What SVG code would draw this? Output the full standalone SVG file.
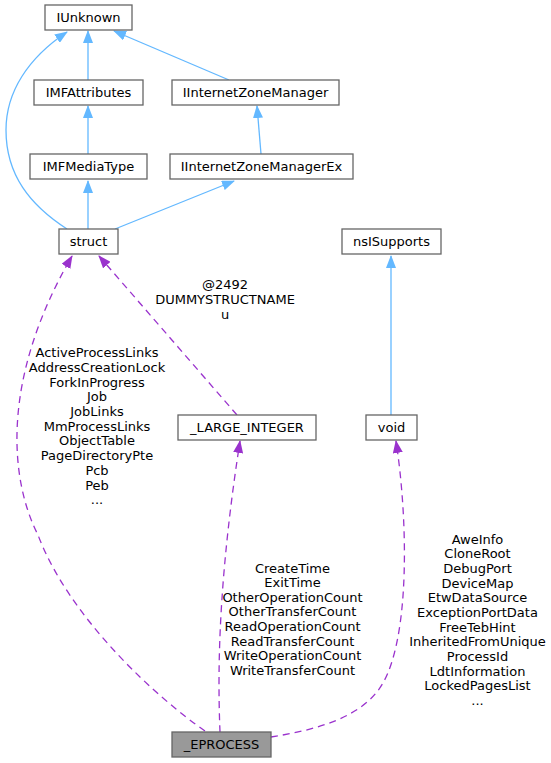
<svg xmlns="http://www.w3.org/2000/svg" width="551" height="763" viewBox="0 0 551 763">
<style>
.n rect{fill:#fff;stroke:#666;stroke-width:1.3}
.n text,.lbl{font-family:"DejaVu Sans","Liberation Sans",sans-serif;font-size:13px;fill:#000;text-anchor:middle}
.blue{fill:none;stroke:#63b8ff;stroke-width:1.3}
.purple{fill:none;stroke:#9a32cd;stroke-width:1.3;stroke-dasharray:7,5}
</style>
<defs>
<marker id="ab" markerUnits="userSpaceOnUse" markerWidth="13" markerHeight="10" viewBox="0 0 13 10" refX="12" refY="5" orient="auto">
<path d="M0,0 L13,5 L0,10 z" fill="#63b8ff" stroke="none"/>
</marker>
<marker id="ap" markerUnits="userSpaceOnUse" markerWidth="13" markerHeight="10" viewBox="0 0 13 10" refX="12" refY="5" orient="auto">
<path d="M0,0 L13,5 L0,10 z" fill="#9a32cd" stroke="none"/>
</marker>
</defs>
<rect width="551" height="763" fill="#fff"/>
<g id="edges">
<path class="blue" d="M88,80 L88,31" marker-end="url(#ab)"/>
<path class="blue" d="M88,154 L88,106" marker-end="url(#ab)"/>
<path class="blue" d="M88,229 L88,181" marker-end="url(#ab)"/>
<path class="blue" d="M229,80 L114,31" marker-end="url(#ab)"/>
<path class="blue" d="M261,154 L257,106" marker-end="url(#ab)"/>
<path class="blue" d="M115,229 L234,181" marker-end="url(#ab)"/>
<path class="blue" d="M67,229 C30,205 6,175 6,130 C6,92 28,58 67,32" marker-end="url(#ab)"/>
<path class="blue" d="M391,415 L391,256" marker-end="url(#ab)"/>
<path class="purple" d="M237,415 L99,256" marker-end="url(#ap)"/>
<path class="purple" d="M205,731 C160,700 70,620 38,535 C10,480 0,380 72,256" marker-end="url(#ap)"/>
<path class="purple" d="M220,732 C217,660 220,570 240,441" marker-end="url(#ap)"/>
<path class="purple" d="M271,737 C315,730 363,718 383,683 C410,635 408,520 396,441" marker-end="url(#ap)"/>
</g>
<g id="IUnknown" class="n"><rect x="45" y="5" width="87" height="25"/><text x="88.5" y="22">IUnknown</text></g>
<g id="IMFAttributes" class="n"><rect x="34" y="80" width="109" height="25"/><text x="88.5" y="97">IMFAttributes</text></g>
<g id="IInternetZoneManager" class="n"><rect x="172" y="80" width="167" height="25"/><text x="255.5" y="97">IInternetZoneManager</text></g>
<g id="IMFMediaType" class="n"><rect x="30" y="154" width="117" height="25"/><text x="88.5" y="171">IMFMediaType</text></g>
<g id="IInternetZoneManagerEx" class="n"><rect x="170" y="154" width="183" height="25"/><text x="261.5" y="171">IInternetZoneManagerEx</text></g>
<g id="struct" class="n"><rect x="59" y="229" width="59" height="25"/><text x="88.5" y="246">struct</text></g>
<g id="nsISupports" class="n"><rect x="342" y="229" width="99" height="25"/><text x="391.5" y="246">nsISupports</text></g>
<g id="LARGE_INTEGER" class="n"><rect x="178" y="415" width="138" height="25"/><text x="247" y="432">_LARGE_INTEGER</text></g>
<g id="void" class="n"><rect x="366" y="415" width="51" height="25"/><text x="391.5" y="432">void</text></g>
<g id="EPROCESS" class="n"><rect x="172" y="732" width="99" height="25" style="fill:#999"/><text x="221.5" y="749">_EPROCESS</text></g>
<g id="labels">
<text class="lbl" x="225" y="289">@2492</text>
<text class="lbl" x="225" y="304">DUMMYSTRUCTNAME</text>
<text class="lbl" x="225" y="319">u</text>
<text class="lbl" x="97" y="357">ActiveProcessLinks</text>
<text class="lbl" x="97" y="371.7">AddressCreationLock</text>
<text class="lbl" x="97" y="386.5">ForkInProgress</text>
<text class="lbl" x="97" y="401.2">Job</text>
<text class="lbl" x="97" y="416">JobLinks</text>
<text class="lbl" x="97" y="430.7">MmProcessLinks</text>
<text class="lbl" x="97" y="445.4">ObjectTable</text>
<text class="lbl" x="97" y="460.2">PageDirectoryPte</text>
<text class="lbl" x="97" y="474.9">Pcb</text>
<text class="lbl" x="97" y="489.7">Peb</text>
<text class="lbl" x="97" y="504.4">...</text>
<text class="lbl" x="292.5" y="572.5">CreateTime</text>
<text class="lbl" x="292.5" y="587.1">ExitTime</text>
<text class="lbl" x="292.5" y="601.7">OtherOperationCount</text>
<text class="lbl" x="292.5" y="616.3">OtherTransferCount</text>
<text class="lbl" x="292.5" y="630.9">ReadOperationCount</text>
<text class="lbl" x="292.5" y="645.5">ReadTransferCount</text>
<text class="lbl" x="292.5" y="660.1">WriteOperationCount</text>
<text class="lbl" x="292.5" y="674.7">WriteTransferCount</text>
<text class="lbl" x="477.5" y="543.7">AweInfo</text>
<text class="lbl" x="477.5" y="558.3">CloneRoot</text>
<text class="lbl" x="477.5" y="573">DebugPort</text>
<text class="lbl" x="477.5" y="587.6">DeviceMap</text>
<text class="lbl" x="477.5" y="602.3">EtwDataSource</text>
<text class="lbl" x="477.5" y="616.9">ExceptionPortData</text>
<text class="lbl" x="477.5" y="631.6">FreeTebHint</text>
<text class="lbl" x="477.5" y="646.2">InheritedFromUnique</text>
<text class="lbl" x="477.5" y="660.9">ProcessId</text>
<text class="lbl" x="477.5" y="675.5">LdtInformation</text>
<text class="lbl" x="477.5" y="690.2">LockedPagesList</text>
<text class="lbl" x="477.5" y="704.8">...</text>
</g>
</svg>
